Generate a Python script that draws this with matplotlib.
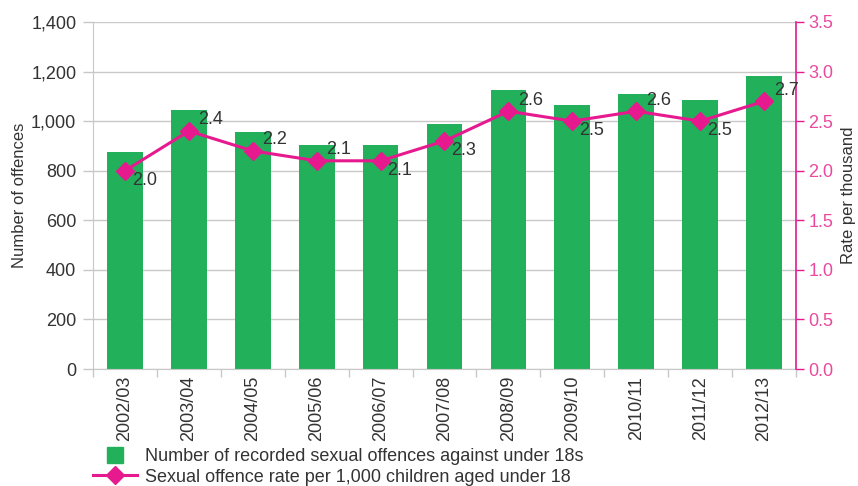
import matplotlib.pyplot as plt
from matplotlib.lines import Line2D
import numpy as np

plt.rcParams['font.family'] = ['Liberation Sans', 'DejaVu Sans']

# data
years = ["2002/03", "2003/04", "2004/05", "2005/06", "2006/07", "2007/08",
         "2008/09", "2009/10", "2010/11", "2011/12", "2012/13"]
offences = [875, 1045, 956, 904, 904, 988, 1125, 1065, 1109, 1085, 1182]
rate = [2.0, 2.4, 2.2, 2.1, 2.1, 2.3, 2.6, 2.5, 2.6, 2.5, 2.7]
rate_labels = ["2.0", "2.4", "2.2", "2.1", "2.1", "2.3", "2.6", "2.5", "2.6", "2.5", "2.7"]
label_above = [False, True, True, True, False, False, True, False, True, False, True]

green = "#22b05b"
pink = "#e6198e"
pink_txt = "#ea4a9e"
grey = "#c8c8c8"
txt = "#333333"

fig = plt.figure(figsize=(8.58, 4.86), dpi=100)
ax = fig.add_axes([93/858, 1 - 369/486, (796 - 93)/858, (369 - 22)/486])
x = np.arange(len(years))

ax.bar(x, offences, width=0.56, color=green, zorder=2)
ax.set_xlim(-0.5, len(years) - 0.5)
ax.set_ylim(0, 1400)
ax.set_yticks(np.arange(0, 1401, 200))
ax.set_yticklabels([f"{v:,}" for v in range(0, 1401, 200)])
ax.grid(axis='y', color=grey, lw=1, zorder=0)
ax.set_axisbelow(True)

ax.set_xticks(x)
ax.set_xticklabels(years, rotation=90)
ax.set_xticks(np.arange(-0.5, len(years)), minor=True)
ax.tick_params(axis='x', which='major', length=0, pad=5, labelsize=13, labelcolor=txt)
ax.tick_params(axis='x', which='minor', length=6, width=1, color=grey)
ax.tick_params(axis='y', length=7, width=1, color=grey, labelsize=13, labelcolor=txt, pad=5)
for s in ['top', 'right']:
    ax.spines[s].set_visible(False)
for s in ['left', 'bottom']:
    ax.spines[s].set_color(grey)
ax.set_ylabel("Number of offences", fontsize=12, color=txt, labelpad=3)

ax2 = ax.twinx()
ax2.plot(x, rate, color=pink, lw=2.2, marker='D', markersize=9, zorder=3)
ax2.set_ylim(0, 3.5)
ax2.set_yticks(np.arange(0, 3.51, 0.5))
ax2.set_yticklabels([f"{v:.1f}" for v in np.arange(0, 3.51, 0.5)])
ax2.tick_params(axis='y', length=6, width=1, color=pink, labelsize=13, labelcolor=pink_txt, pad=3)
for s in ['top', 'left', 'bottom']:
    ax2.spines[s].set_visible(False)
ax2.spines['right'].set_color(pink)
ax2.spines['right'].set_linewidth(1.2)
ax2.set_ylabel("Rate per thousand", fontsize=12, color=txt, labelpad=5)

for xi, r, lab, up in zip(x, rate, rate_labels, label_above):
    off = (7, 8) if up else (5, -7)
    ax2.annotate(lab, (xi, r), xytext=off, textcoords='offset points',
                 ha='left', va='center', fontsize=13, color=txt, zorder=4)

handles = [
    Line2D([], [], marker='s', color=green, linestyle='none', markersize=11.5),
    Line2D([], [], marker='D', color=pink, lw=2.2, markersize=9),
]
fig.legend(handles, ["Number of recorded sexual offences against under 18s",
                     "Sexual offence rate per 1,000 children aged under 18"],
           loc='upper left', bbox_to_anchor=(93/858, 1 - 448/486), frameon=False,
           fontsize=13, handlelength=2.45, handletextpad=0.45, labelspacing=0.2,
           borderpad=0, borderaxespad=0, labelcolor=txt)

fig.savefig("out.png", dpi=100)
